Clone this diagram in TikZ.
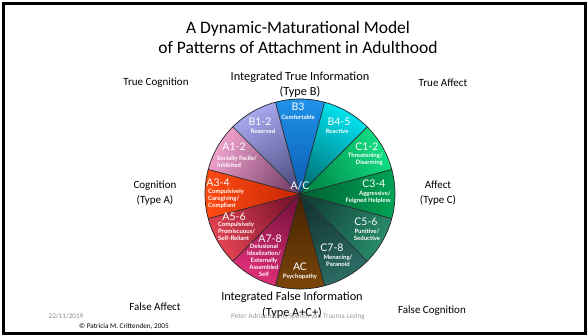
\documentclass[tikz,border=0pt]{standalone}
\usepackage{fontspec}
\setmainfont{Carlito}
\newfontfamily\wedgefont{Lato}

\definecolor{bthreeo}{HTML}{1E92EA}
\definecolor{bthreei}{HTML}{0A5CB0}
\definecolor{bfouro}{HTML}{00E6F2}
\definecolor{bfouri}{HTML}{00767C}
\definecolor{conetwoo}{HTML}{12E285}
\definecolor{conetwoi}{HTML}{008A48}
\definecolor{cthreeo}{HTML}{00A455}
\definecolor{cthreei}{HTML}{005F32}
\definecolor{cfiveo}{HTML}{2A8C6C}
\definecolor{cfivei}{HTML}{11443A}
\definecolor{csevo}{HTML}{2C6E66}
\definecolor{csevi}{HTML}{143634}
\definecolor{acout}{HTML}{7C4608}
\definecolor{acin}{HTML}{442202}
\definecolor{asevo}{HTML}{E2307C}
\definecolor{asevi}{HTML}{7E1240}
\definecolor{afiveo}{HTML}{E64454}
\definecolor{afivei}{HTML}{80162E}
\definecolor{athreeo}{HTML}{FF4C12}
\definecolor{athreei}{HTML}{C62606}
\definecolor{aoneo}{HTML}{F2A4CE}
\definecolor{aonei}{HTML}{7E4670}
\definecolor{boneo}{HTML}{AAAAF2}
\definecolor{bonei}{HTML}{535388}

\tikzset{
  headline/.style={font=\fontsize{17.5}{19.5}\selectfont, align=center},
  sidetext/.style={font=\fontsize{11}{15}\selectfont, align=center},
  midtext/.style={font=\fontsize{12.3}{15.5}\selectfont, align=center},
  code/.style={text=white, inner sep=0pt, font=\wedgefont\fontsize{10.5}{12}\selectfont},
  trait/.style={text=white, inner sep=0pt, font=\wedgefont\bfseries\fontsize{6}{6.9}\selectfont},
  foot/.style={inner sep=0pt, font=\fontsize{7.2}{8}\selectfont},
  sep/.style={draw=black!85, line width=0.7pt}
}

\begin{document}
\begin{tikzpicture}[x=1pt,y=1pt]
  \useasboundingbox (0,0) rectangle (587,-335);
  \draw[line width=3pt] (3,-3) rectangle (585.5,-333.5);

  \coordinate (ctr) at (300,-194);

  % wedges
  \foreach \ang/\outc/\inc [evaluate=\ang as \rot using \ang-90] in {90/bthreeo/bthreei,
      60/bfouro/bfouri, 30/conetwoo/conetwoi, 0/cthreeo/cthreei, -30/cfiveo/cfivei,
      -60/csevo/csevi, -90/acout/acin, -120/asevo/asevi, -150/afiveo/afivei,
      180/athreeo/athreei, 150/aoneo/aonei, 120/boneo/bonei}
    \shade[top color=\outc, bottom color=\inc, shading angle=\rot]
      (ctr) -- ++(\ang-15:95) arc[start angle=\ang-15, end angle=\ang+15, radius=95] -- cycle;
  \foreach \a in {15,45,...,345}
    \draw[sep] (ctr) -- ++(\a:95);
  \draw[sep] (ctr) circle[radius=95];

  \node[headline] (title) at (298,-37.5) {A Dynamic-Maturational Model\\of Patterns of Attachment in Adulthood};

  \node[sidetext] (truecog) at (156,-83) {True Cognition};
  \node[midtext] (typeb) at (300,-84.5) {Integrated True Information\\(Type B)};
  \node[sidetext] (trueaff) at (443,-83) {True Affect};
  \node[sidetext] (typea) at (155,-193.5) {Cognition\\(Type A)};
  \node[sidetext] (typec) at (438,-193.5) {Affect\\(Type C)};
  \node[sidetext] (falseaff) at (155,-307) {False Affect};
  \node[midtext] (typeac) at (292,-305) {Integrated False Information\\(Type A+C+)};
  \node[sidetext] (falsecog) at (432,-311) {False Cognition};

  % wedge labels
  \node[code] (ac) at (300,-186) {A/C};
  \node[code] (b3) at (298,-107) {B3};
  \node[trait] (b3t) at (298,-117) {Comfortable};
  \node[code] (b12) at (260,-122) {B1-2};
  \node[trait] (b12t) at (263,-131) {Reserved};
  \node[code] (b45) at (339,-122) {B4-5};
  \node[trait] (b45t) at (337,-131) {Reactive};
  \node[code] (a12) at (234,-147) {A1-2};
  \node[trait, anchor=west, align=left] (a12t) at (217,-161.5) {Socially Facile/\\Inhibited};
  \node[code] (c12) at (367,-147) {C1-2};
  \node[trait, anchor=east, align=right] (c12t) at (383,-159.5) {Threatening/\\Disarming};
  \node[code] (a34) at (218,-183) {A3-4};
  \node[trait, anchor=west, align=left] (a34t) at (208,-199) {Compulsively\\Caregiving/\\Compliant};
  \node[code] (c34) at (374,-184) {C3-4};
  \node[trait, anchor=east, align=right] (c34t) at (391,-197.5) {Aggressive/\\Feigned Helpless};
  \node[code] (a56) at (234,-217) {A5-6};
  \node[trait, anchor=west, align=left] (a56t) at (218,-231.5) {Compulsively\\Promiscuous/\\Self-Reliant};
  \node[code] (c56) at (366,-222) {C5-6};
  \node[trait, align=center] (c56t) at (367,-234.5) {Punitive/\\Seductive};
  \node[code] (a78) at (270,-239) {A7-8};
  \node[trait, align=center] (a78t) at (264,-260) {Delusional\\Idealization/\\Externally\\Assembled\\Self};
  \node[code] (c78) at (332,-248) {C7-8};
  \node[trait, align=center] (c78t) at (338,-261) {Menacing/\\Paranoid};
  \node[code] (acp) at (300,-267) {AC};
  \node[trait] (acpt) at (300,-277) {Psychopathy};

  % footer
  \node[foot, text=black!45] (date) at (66,-316) {22/11/2019};
  \node[foot, text=black!40] (event) at (298,-317) {Peter Adriaenssens Sporen van Trauma Lezing};
  \node[foot] (copy) at (124,-326) {© Patricia M. Crittenden, 2005};
\end{tikzpicture}
\end{document}
